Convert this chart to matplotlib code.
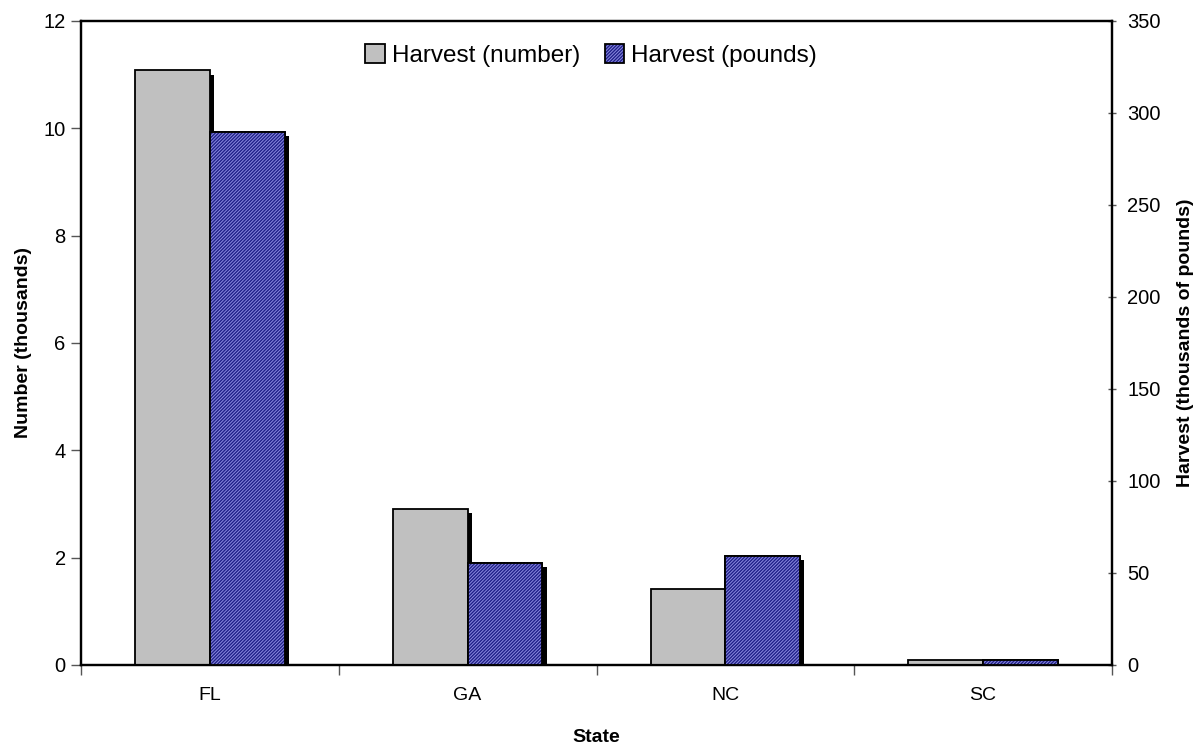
import matplotlib
matplotlib.use("Agg")
import matplotlib.pyplot as plt
import matplotlib.patheffects as pe
from matplotlib.patches import Patch
import numpy as np

plt.rcParams['font.family'] = ['Liberation Sans', 'DejaVu Sans']

states = ["FL", "GA", "NC", "SC"]
harvest_number = [11.08, 2.91, 1.42, 0.09]      # thousands
harvest_pounds = [289.5, 55.5, 59.3, 2.7]       # thousands of pounds

fig = plt.figure(figsize=(12, 7.47), dpi=100)
ax = fig.add_axes([81/1200, 1-665/747, (1112-81)/1200, (665-21)/747])
ax2 = ax.twinx()

x = np.arange(len(states))
w = 0.29
shadow = [pe.SimplePatchShadow(offset=(3, -3), shadow_rgbFace='black', alpha=1.0), pe.Normal()]

ax.bar(x - w/2, harvest_number, width=w, color='#C0C0C0', edgecolor='black',
       linewidth=1.3, path_effects=shadow, zorder=3)

plt.rcParams['hatch.linewidth'] = 0.7
BLUE = '#202088'
HATCH = '#8c8ce0'
ax2.bar(x + w/2, harvest_pounds, width=w, color=BLUE, edgecolor='black',
        linewidth=1.3, path_effects=shadow, zorder=2)
ax2.bar(x + w/2, harvest_pounds, width=w, color='none', edgecolor=HATCH,
        hatch='//////////', linewidth=0, zorder=3)
ax2.bar(x + w/2, harvest_pounds, width=w, color='none', edgecolor='black',
        linewidth=1.3, zorder=4)

ax.set_xlim(-0.5, len(states) - 0.5)
ax.set_ylim(0, 12)
ax2.set_ylim(0, 350)
ax.set_yticks(np.arange(0, 13, 2))
ax2.set_yticks(np.arange(0, 351, 50))

ax.set_xticks(np.arange(-0.5, len(states), 1.0))
ax.set_xticklabels([])
ax.set_xticks(x, minor=True)
ax.set_xticklabels(states, minor=True)
ax.tick_params(axis='x', which='minor', length=0, pad=16, labelsize=14)
ax.tick_params(axis='x', which='major', length=7, width=1, direction='out', color='#555555')

ax.tick_params(axis='y', labelsize=14.5, length=7, width=1, direction='out', color='#555555', pad=4)
ax2.tick_params(axis='y', labelsize=14.5, length=6, width=1, direction='inout', color='#555555', pad=8)

for a in (ax, ax2):
    for s in a.spines.values():
        s.set_linewidth(1.6)
        s.set_color('black')

ax.set_xlabel('State', fontsize=14, fontweight='bold', labelpad=18)
ax.set_ylabel('Number (thousands)', fontsize=14, fontweight='bold', labelpad=8)
ax2.set_ylabel('Harvest (thousands of pounds)', fontsize=14, fontweight='bold', labelpad=12)

h1 = Patch(facecolor='#C0C0C0', edgecolor='black', linewidth=1.3)
h2 = Patch(facecolor=BLUE, edgecolor=HATCH, hatch='//////////', linewidth=0)
h2b = Patch(facecolor='none', edgecolor='black', linewidth=1.3)
ax2.legend([h1, (h2, h2b)], ['Harvest (number)', 'Harvest (pounds)'],
           loc='upper center', bbox_to_anchor=(0.495, 0.998), ncol=2, frameon=False,
           fontsize=17.5, handlelength=0.8, handleheight=0.8, handletextpad=0.3,
           columnspacing=1.0)

fig.savefig('out.png', dpi=100)
